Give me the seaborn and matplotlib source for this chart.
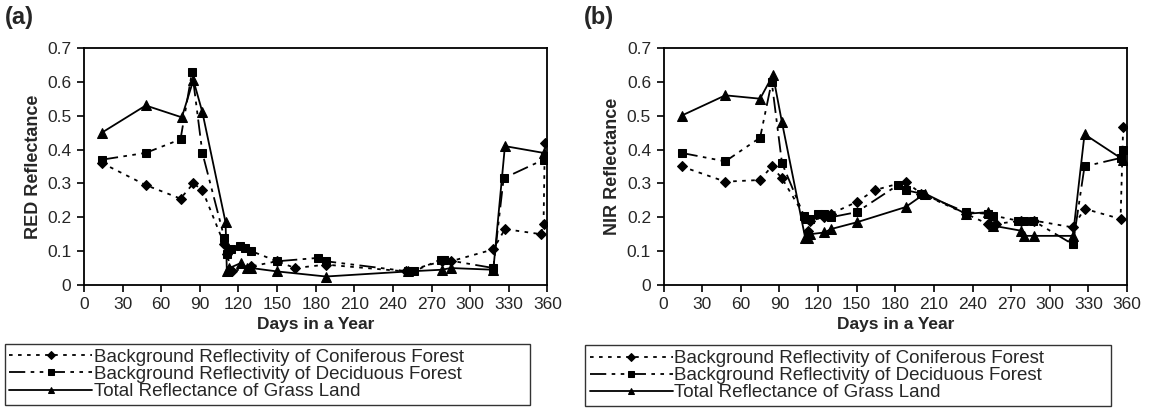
import matplotlib
matplotlib.use("Agg")
import matplotlib.pyplot as plt
import seaborn as sns
import pandas as pd
from matplotlib.ticker import FuncFormatter

# ---------------- data ----------------
series_names = ["Background Reflectivity of Coniferous Forest",
                "Background Reflectivity of Deciduous Forest",
                "Total Reflectance of Grass Land"]

# Panel (a) RED reflectance
red_con_days = [14, 48, 75, 85, 92, 109, 111, 115, 130, 150, 164, 188, 250, 278, 285, 318, 327, 355, 357, 358]
red_con_vals = [0.36, 0.295, 0.255, 0.30, 0.28, 0.12, 0.09, 0.04, 0.055, 0.07, 0.05, 0.06, 0.04, 0.07, 0.07, 0.105, 0.165, 0.15, 0.18, 0.42]

red_dec_days = [14, 48, 75, 84, 92, 109, 111, 114, 121, 125, 130, 150, 182, 188, 252, 256, 277, 280, 318, 326, 357, 358]
red_dec_vals = [0.37, 0.39, 0.43, 0.63, 0.39, 0.14, 0.09, 0.105, 0.115, 0.11, 0.10, 0.07, 0.08, 0.07, 0.04, 0.04, 0.075, 0.075, 0.05, 0.315, 0.37, 0.38]

red_gra_days = [14, 48, 76, 85, 92, 110, 111, 113, 122, 127, 130, 150, 188, 252, 278, 285, 318, 327, 357]
red_gra_vals = [0.45, 0.53, 0.495, 0.605, 0.51, 0.185, 0.04, 0.05, 0.065, 0.05, 0.05, 0.04, 0.025, 0.04, 0.045, 0.05, 0.045, 0.41, 0.39]

# Panel (b) NIR reflectance
nir_con_days = [14, 48, 75, 84, 92, 110, 112, 114, 125, 130, 150, 164, 188, 200, 235, 252, 258, 278, 288, 318, 327, 355, 357]
nir_con_vals = [0.35, 0.305, 0.31, 0.35, 0.315, 0.20, 0.16, 0.19, 0.20, 0.21, 0.245, 0.28, 0.305, 0.27, 0.21, 0.18, 0.18, 0.19, 0.19, 0.17, 0.225, 0.195, 0.465]

nir_dec_days = [14, 48, 75, 84, 92, 109, 111, 114, 120, 125, 130, 150, 182, 188, 200, 235, 252, 256, 275, 280, 287, 318, 327, 355, 357]
nir_dec_vals = [0.39, 0.365, 0.435, 0.60, 0.36, 0.205, 0.195, 0.195, 0.21, 0.21, 0.20, 0.215, 0.295, 0.28, 0.27, 0.215, 0.21, 0.205, 0.19, 0.19, 0.19, 0.12, 0.35, 0.375, 0.40]

nir_gra_days = [14, 48, 75, 85, 92, 110, 112, 114, 125, 130, 150, 188, 203, 235, 252, 256, 278, 280, 288, 318, 327, 357]
nir_gra_vals = [0.50, 0.56, 0.55, 0.62, 0.48, 0.14, 0.14, 0.15, 0.155, 0.165, 0.185, 0.23, 0.27, 0.21, 0.215, 0.175, 0.16, 0.145, 0.145, 0.145, 0.445, 0.37]

x_ticks = list(range(0, 361, 30))
y_ticks = [0, 0.1, 0.2, 0.3, 0.4, 0.5, 0.6, 0.7]
panel_labels = ["(a)", "(b)"]
y_labels = ["RED Reflectance", "NIR Reflectance"]
x_label = "Days in a Year"

# ---------------- style ----------------
sns.set_style("ticks")
plt.rcParams["font.family"] = ["Liberation Sans", "DejaVu Sans"]

styles = [
    dict(linestyle=(0, (2, 3)), marker="D", markersize=5),
    dict(linestyle=(0, (9, 3, 2, 3, 2, 3)), marker="s", markersize=5.5),
    dict(linestyle="-", marker="^", markersize=6.5),
]

fig = plt.figure(figsize=(11.5, 4.13), dpi=100)
ax_pos = [[0.073, 0.31, 0.403, 0.574], [0.577, 0.31, 0.403, 0.574]]

panels = [
    [(red_con_days, red_con_vals), (red_dec_days, red_dec_vals), (red_gra_days, red_gra_vals)],
    [(nir_con_days, nir_con_vals), (nir_dec_days, nir_dec_vals), (nir_gra_days, nir_gra_vals)],
]

legend_boxes = [(0.004, -0.5, 0.457, 0.667), (0.509, -0.5, 0.457, 0.664)]

for i, (pos, pdata) in enumerate(zip(ax_pos, panels)):
    ax = fig.add_axes(pos)
    for name, (d, v), st in zip(series_names, pdata, styles):
        df = pd.DataFrame({"day": d, "val": v})
        sns.lineplot(data=df, x="day", y="val", sort=False, estimator=None, ax=ax,
                     color="black", linewidth=1.3, label=name,
                     markeredgecolor="black", markerfacecolor="black",
                     linestyle=st["linestyle"], marker=st["marker"],
                     markersize=st["markersize"])
    ax.set_xlim(0, 360)
    ax.set_ylim(0, 0.7)
    ax.set_xticks(x_ticks)
    ax.set_yticks(y_ticks)
    ax.yaxis.set_major_formatter(FuncFormatter(lambda val, p: "0" if abs(val) < 1e-9 else f"{val:.1f}"))
    ax.tick_params(axis="both", labelsize=12.5, length=5, width=1.2, color="black",
                   direction="out", pad=4)
    ax.set_xlabel(x_label, fontsize=12.5, fontweight="bold", labelpad=3)
    ax.set_ylabel(y_labels[i], fontsize=13, fontweight="bold", labelpad=4)
    for sp in ax.spines.values():
        sp.set_visible(True)
        sp.set_color("black")
        sp.set_linewidth(1.3)
    ax.get_legend().remove()
    handles, labels = ax.get_legend_handles_labels()
    leg = fig.legend(handles, labels, loc="upper left", mode="expand",
                     bbox_to_anchor=legend_boxes[i], bbox_transform=fig.transFigure,
                     frameon=True, fancybox=False, edgecolor="black", fontsize=13.5,
                     handlelength=4.4, handletextpad=0.1, labelspacing=0.0,
                     borderpad=0.25, borderaxespad=0)
    leg.get_frame().set_linewidth(1.0)
    for lh in leg.get_lines():
        lh.set_markersize(4)
    fig.text(0.004 if i == 0 else 0.508, 0.985, panel_labels[i], fontsize=17,
             fontweight="bold", va="top", ha="left")

fig.savefig("out.png", dpi=100, facecolor="white")
